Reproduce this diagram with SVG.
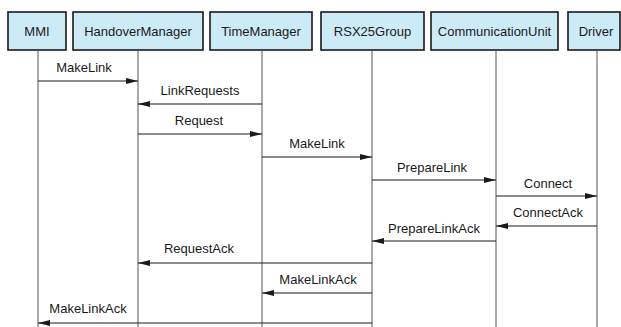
<svg xmlns="http://www.w3.org/2000/svg" width="621" height="327" viewBox="0 0 621 327">
<style>
.box{fill:#cdeaf7;stroke:#1a1a1a;stroke-width:1.6}
.life{stroke:#555;stroke-width:1;fill:none}
.msg{stroke:#1a1a1a;stroke-width:1.2;fill:none;marker-end:url(#ah)}
text{font-family:"Liberation Sans",Arial,sans-serif;font-size:13px;fill:#1a1a1a;text-anchor:middle}
</style>
<defs>
<marker id="ah" viewBox="0 0 12 6" refX="12" refY="3" markerWidth="12" markerHeight="6" markerUnits="userSpaceOnUse" orient="auto">
<path d="M0,0 L12,3 L0,6 Z" fill="#1a1a1a"/>
</marker>
</defs>
<g id="MMI"><rect class="box" x="8" y="12" width="58" height="38"/><text x="37" y="36">MMI</text><line class="life" x1="38" y1="50" x2="38" y2="327"/></g>
<g id="HandoverManager"><rect class="box" x="73" y="12" width="130" height="38"/><text x="138" y="36">HandoverManager</text><line class="life" x1="138" y1="50" x2="138" y2="327"/></g>
<g id="TimeManager"><rect class="box" x="210" y="12" width="102" height="38"/><text x="261" y="36">TimeManager</text><line class="life" x1="262" y1="50" x2="262" y2="327"/></g>
<g id="RSX25Group"><rect class="box" x="321" y="12" width="103" height="38"/><text x="372.5" y="36">RSX25Group</text><line class="life" x1="372" y1="50" x2="372" y2="327"/></g>
<g id="CommunicationUnit"><rect class="box" x="431" y="12" width="127" height="38"/><text x="494.5" y="36">CommunicationUnit</text><line class="life" x1="496" y1="50" x2="496" y2="327"/></g>
<g id="Driver"><rect class="box" x="568" y="12" width="52" height="38"/><text x="596" y="36">Driver</text><line class="life" x1="597" y1="50" x2="597" y2="327"/></g>
<g id="connectors">
<line class="msg" x1="38" y1="81" x2="138" y2="81"/><text x="84" y="72">MakeLink</text>
<line class="msg" x1="262" y1="104" x2="138" y2="104"/><text x="200" y="95">LinkRequests</text>
<line class="msg" x1="138" y1="134" x2="262" y2="134"/><text x="199" y="125">Request</text>
<line class="msg" x1="262" y1="157" x2="372" y2="157"/><text x="317" y="148">MakeLink</text>
<line class="msg" x1="372" y1="180" x2="496" y2="180"/><text x="432" y="172">PrepareLink</text>
<line class="msg" x1="496" y1="196" x2="597" y2="196"/><text x="548" y="188">Connect</text>
<line class="msg" x1="597" y1="226" x2="496" y2="226"/><text x="548" y="217">ConnectAck</text>
<line class="msg" x1="496" y1="241" x2="372" y2="241"/><text x="434" y="233">PrepareLinkAck</text>
<line class="msg" x1="372" y1="263" x2="138" y2="263"/><text x="199" y="253">RequestAck</text>
<line class="msg" x1="372" y1="293" x2="262" y2="293"/><text x="318" y="284">MakeLinkAck</text>
<line class="msg" x1="372" y1="323" x2="38" y2="323"/><text x="88" y="313">MakeLinkAck</text>
</g>
</svg>
